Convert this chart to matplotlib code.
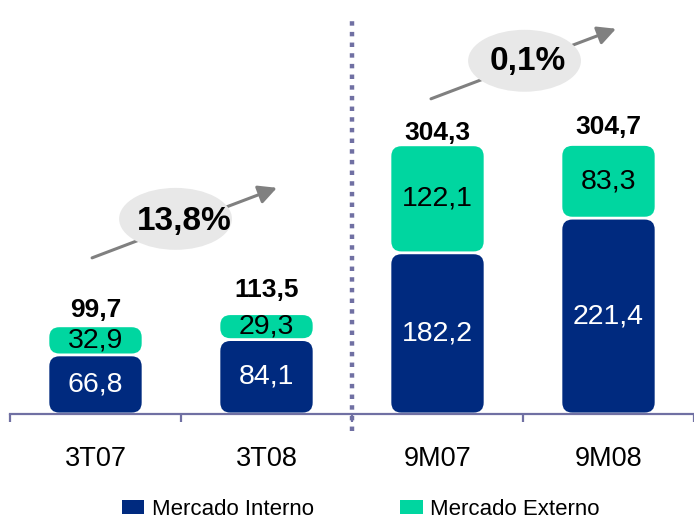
import matplotlib
matplotlib.use("Agg")
import matplotlib.pyplot as plt
from matplotlib.patches import FancyBboxPatch, Ellipse, FancyArrowPatch, Patch

plt.rcParams['font.family'] = ['Liberation Sans', 'DejaVu Sans']

# data
categories = ['3T07', '3T08', '9M07', '9M08']
interno = [66.8, 84.1, 182.2, 221.4]
externo = [32.9, 29.3, 122.1, 83.3]
totals = ['99,7', '113,5', '304,3', '304,7']
interno_lbl = ['66,8', '84,1', '182,2', '221,4']
externo_lbl = ['32,9', '29,3', '122,1', '83,3']
growth = ['13,8%', '0,1%']

navy = '#002A7F'
green = '#00D6A0'
axis_col = '#7070A3'

fig = plt.figure(figsize=(6.94, 5.2), dpi=100)
ax = fig.add_axes([10 / 694, 106 / 520, 684 / 694, 414 / 520])
ax.set_xlim(-0.5, 3.5)
ax.set_ylim(0, 468)

x = list(range(len(categories)))
w = 0.54
b1 = ax.bar(x, interno, w, color=navy)
b2 = ax.bar(x, externo, w, bottom=interno, color=green)

# swap plain bars for rounded ones
ax_w = fig.get_figwidth() * fig.dpi * 684 / 694
ax_h = fig.get_figheight() * fig.dpi * 414 / 520
px_x = ax_w / 4.0
px_y = ax_h / 468.0
aspect = px_x / px_y
gap = 1.4 / px_y
for bars in (b1, b2):
    for r in bars:
        x0, y0 = r.get_x(), r.get_y() + gap
        rw, rh = r.get_width(), r.get_height() - 2 * gap
        rad = min(10 / px_x, 0.45 * rh / aspect)
        p = FancyBboxPatch((x0, y0), rw, rh,
                           boxstyle='round,pad=0,rounding_size=%f' % rad,
                           mutation_aspect=aspect, fc=r.get_facecolor(),
                           ec='none', zorder=2)
        ax.add_patch(p)
        r.set_visible(False)

for i in x:
    ax.text(i, interno[i] / 2, interno_lbl[i], ha='center', va='center',
            color='white', fontsize=20.5, zorder=3)
    ax.text(i, interno[i] + externo[i] / 2, externo_lbl[i], ha='center',
            va='center', color='black', fontsize=20.5, zorder=3)

# totals above bars (gap in px as placed in the original)
tot_gap = [9, 17, 5, 10]
for i in x:
    ax.annotate(totals[i], (i, interno[i] + externo[i]),
                xytext=(0, tot_gap[i] * 72 / 100), textcoords='offset points',
                ha='center', va='baseline', fontsize=19, fontweight='bold')

# axis styling
for s in ['left', 'right', 'top']:
    ax.spines[s].set_visible(False)
ax.spines['bottom'].set_color(axis_col)
ax.spines['bottom'].set_linewidth(1.6)
ax.set_yticks([])
ax.set_xticks(x)
ax.set_xticklabels(categories, fontsize=19.5)
ax.tick_params(axis='x', which='major', length=0, pad=23)
ax.set_xticks([-0.5, 0.5, 1.5, 2.5, 3.5], minor=True)
ax.tick_params(axis='x', which='minor', length=6, width=1.6,
               color=axis_col, direction='out')

# dotted separator
ax.plot([1.5, 1.5], [-19, 451], color=axis_col, lw=3.2,
        linestyle=(0, (1, 1.4)), clip_on=False, zorder=1)

# growth arrows with ellipses
arrows = [((-0.02, 176.5), (1.061, 255.7)), ((1.962, 356.3), (3.044, 435.5))]
ells = [(0.468, 220.6), (2.509, 399.3)]
txts = [(0.518, 217.2), (2.529, 398.2)]
for k in range(2):
    a = FancyArrowPatch(arrows[k][0], arrows[k][1],
                        arrowstyle='-|>,head_length=0.55,head_width=0.28',
                        mutation_scale=20, color='#808080', lw=2.2,
                        shrinkA=0, shrinkB=0, zorder=4, clip_on=False)
    ax.add_patch(a)
    e = Ellipse(ells[k], 0.66, 70, fc='#E8E8E8', ec='none', zorder=5,
                clip_on=False)
    ax.add_patch(e)
    ax.text(txts[k][0], txts[k][1], growth[k], ha='center', va='center',
            fontsize=24, fontweight='bold', zorder=6)

handles = [Patch(fc=navy, ec='none'), Patch(fc=green, ec='none')]
fig.legend(handles, ['Mercado Interno', 'Mercado Externo'], ncol=2,
           loc='center', bbox_to_anchor=(0.52, 0.021), frameon=False,
           fontsize=16, handlelength=1.0, handleheight=0.6,
           handletextpad=0.35, columnspacing=3.9)

fig.savefig('out.png', dpi=100)
